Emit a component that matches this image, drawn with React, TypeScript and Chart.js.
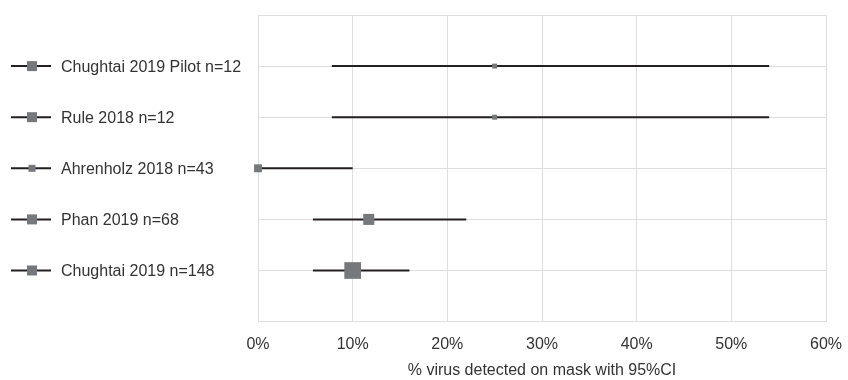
import React, { useEffect, useRef } from "react";
import { Chart, registerables } from "chart.js";

Chart.register(...registerables);

const STUDIES = [
  "Chughtai 2019 Pilot n=12",
  "Rule 2018 n=12",
  "Ahrenholz 2018 n=43",
  "Phan 2019 n=68",
  "Chughtai 2019 n=148",
];
const ROWS = [5, 4, 3, 2, 1];
const ESTIMATES = [0.25, 0.25, 0.0, 0.117, 0.10];
const CI_LOW = [0.078, 0.078, 0.0, 0.058, 0.058];
const CI_HIGH = [0.54, 0.54, 0.10, 0.22, 0.16];
const X_TICKS = [0, 0.1, 0.2, 0.3, 0.4, 0.5, 0.6];

const POINT_RADII = [3.5, 3.5, 5.6, 7.8, 11.8];
const LEGEND_SQUARE = [10, 10, 7, 10, 10];

const FONT = "'Liberation Sans', Arial, sans-serif";
const LINE_COLOR = "#231f20";
const SQUARE_COLOR = "#77787b";
const GRID_COLOR = "#dedede";
const TEXT_COLOR = "#333333";

const rowLegend = {
  id: "rowLegend",
  afterDraw(chart: any) {
    const ctx = chart.ctx;
    const y = chart.scales.y;
    ctx.save();
    STUDIES.forEach((name, i) => {
      const py = y.getPixelForValue(ROWS[i]);
      ctx.strokeStyle = LINE_COLOR;
      ctx.lineWidth = 2;
      ctx.beginPath();
      ctx.moveTo(11, py);
      ctx.lineTo(51, py);
      ctx.stroke();
      const s = LEGEND_SQUARE[i];
      ctx.fillStyle = SQUARE_COLOR;
      ctx.fillRect(32 - s / 2, py - s / 2, s, s);
      ctx.fillStyle = TEXT_COLOR;
      ctx.font = `16px ${FONT}`;
      ctx.textBaseline = "middle";
      ctx.textAlign = "left";
      ctx.fillText(name, 61, py + 1);
    });
    ctx.restore();
  },
};

export default function App() {
  const ref = useRef<HTMLCanvasElement>(null);

  useEffect(() => {
    if (!ref.current) return;
    const lineSets = STUDIES.map((name, i) => ({
      label: name + " CI",
      data: [
        { x: CI_LOW[i], y: ROWS[i] },
        { x: CI_HIGH[i], y: ROWS[i] },
      ],
      showLine: true,
      borderColor: LINE_COLOR,
      borderWidth: 2,
      pointRadius: 0,
      order: 1,
      clip: false,
    }));
    const chart = new Chart(ref.current, {
      type: "scatter",
      data: {
        datasets: [
          {
            label: "Estimate",
            data: ESTIMATES.map((v, i) => ({ x: v, y: ROWS[i] })),
            pointStyle: "rect",
            pointRadius: POINT_RADII,
            backgroundColor: SQUARE_COLOR,
            borderWidth: 0,
            order: 0,
            clip: false,
          } as any,
          ...lineSets,
        ],
      },
      options: {
        animation: false,
        responsive: true,
        maintainAspectRatio: false,
        layout: { padding: { left: 258, right: 22, top: 15, bottom: 0 } },
        plugins: { legend: { display: false }, tooltip: { enabled: false } },
        scales: {
          x: {
            type: "linear",
            min: 0,
            max: 0.6,
            afterBuildTicks: (axis: any) => {
              axis.ticks = X_TICKS.map((v) => ({ value: v }));
            },
            afterFit: (axis: any) => {
              axis.paddingRight = 0;
              axis.paddingLeft = 0;
            },
            grid: { color: GRID_COLOR, lineWidth: 1, drawTicks: false },
            border: { display: false },
            ticks: {
              padding: 13,
              color: TEXT_COLOR,
              font: { family: FONT, size: 16 },
              callback: (v: any) => Math.round(Number(v) * 100) + "%",
            },
            title: {
              display: true,
              text: "% virus detected on mask with 95%CI",
              color: TEXT_COLOR,
              font: { family: FONT, size: 16 },
              padding: { top: -6, bottom: 0 },
            },
          },
          y: {
            type: "linear",
            min: 0,
            max: 6,
            ticks: { display: false, stepSize: 1 },
            grid: { color: GRID_COLOR, lineWidth: 1, drawTicks: false },
            border: { display: false },
          },
        },
      },
      plugins: [rowLegend],
    });
    return () => chart.destroy();
  }, []);

  return (
    <div style={{ position: "fixed", left: 0, top: 0, width: 848, height: 380, background: "#fff" }}>
      <canvas ref={ref} />
    </div>
  );
}
